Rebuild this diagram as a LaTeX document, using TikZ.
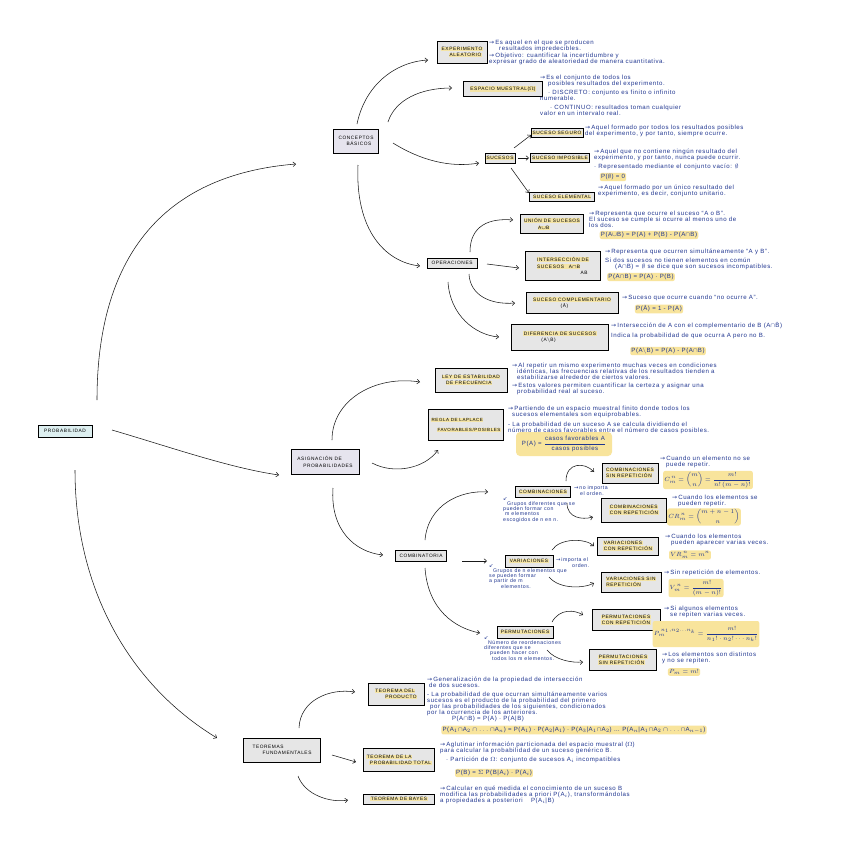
\documentclass[tikz,border=0pt]{standalone}
\usepackage{amsmath}
\usepackage{fontspec}
\setmainfont{Liberation Sans}
\newfontfamily\notefont[LetterSpace=9]{Liberation Sans}
\newfontfamily\boxfontf[LetterSpace=12]{Liberation Sans}
\newfontfamily\symf{DejaVu Sans}
\usetikzlibrary{arrows.meta,calc}
\definecolor{boxgray}{HTML}{E6E6E6}
\definecolor{probfill}{HTML}{DDEFF0}
\definecolor{concfill}{HTML}{E6E4EE}
\definecolor{hly}{HTML}{F4E4A6}
\definecolor{hlf}{HTML}{F8E49C}
\definecolor{notecol}{HTML}{1F3590}
\newcommand\myra{{\symf →}\,}
\newcommand\mysw{{\symf ↙}}
\newcommand\myhl[1]{{\setlength\fboxsep{0.5pt}\colorbox{hly}{#1}}}
\tikzset{
  box/.style={draw=black, line width=0.7pt, fill=boxgray, inner sep=1pt, align=left,
    font=\boxfontf\fontsize{4.8}{6.5}\selectfont, text=black},
  note/.style={anchor=north west, inner sep=0pt, align=left, text=notecol,
    font=\notefont\fontsize{6.1}{6}\selectfont},
  smallnote/.style={note, font=\notefont\fontsize{5.2}{5.2}\selectfont},
  form/.style={fill=hlf, rounded corners=2pt, inner sep=1.2pt, text=notecol,
    font=\notefont\fontsize{6.1}{6.5}\selectfont},
  arr/.style={-{Straight Barb[length=2.6pt,width=4.6pt]}, line width=0.55pt, black!90},
}
\begin{document}
\begin{tikzpicture}[x=1pt,y=-1pt]
\useasboundingbox[fill=white] (0,0) rectangle (848,847);

% ---------- boxes ----------
\node[box, fill=probfill, minimum width=54pt, minimum height=12pt] (prob) at (65,431) {PROBABILIDAD};
\node[box, fill=concfill, minimum width=45pt, minimum height=24pt] (concep) at (356,141) {CONCEPTOS\\\hspace*{8pt}BÁSICOS};
\node[box, fill=concfill, minimum width=68pt, minimum height=25pt] (asig) at (325,462) {ASIGNACIÓN DE\\\hspace*{6pt}PROBABILIDADES};
\node[box, minimum width=77pt, minimum height=24pt] (teor) at (282,750) {TEOREMAS\\\hspace*{10pt}FUNDAMENTALES};

\node[box, minimum width=50pt, minimum height=22pt] (exper) at (462,52) {\myhl{EXPERIMENTO}\\\hspace*{8pt}\myhl{ALEATORIO}};
\node[box, minimum width=79pt, minimum height=15pt] (espacio) at (503,89) {\myhl{ESPACIO MUESTRAL($\Omega$)}};
\node[box, minimum width=27pt, minimum height=10pt] (sucesos) at (500,158) {\myhl{SUCESOS}};
\node[box, minimum width=49pt, minimum height=9pt] (seguro) at (557,133) {\myhl{SUCESO SEGURO}};
\node[box, minimum width=57pt, minimum height=9pt] (imposible) at (560,158) {\myhl{SUCESO IMPOSIBLE}};
\node[box, minimum width=65pt, minimum height=9pt] (elemental) at (562,197) {\myhl{SUCESO ELEMENTAL}};
\node[box, minimum width=50pt, minimum height=10pt] (operac) at (452,263) {OPERACIONES};
\node[box, minimum width=63pt, minimum height=19pt] (union) at (552,224) {\myhl{UNIÓN DE SUCESOS}\\\hspace*{14pt}\myhl{A$\cup$B}};
\node[box, minimum width=75pt, minimum height=29pt] (inters) at (563,266) {\myhl{INTERSECCIÓN DE}\\\myhl{SUCESOS\quad A$\cap$B}\\\hspace*{44pt}AB};
\node[box, minimum width=92pt, minimum height=21pt] (complem) at (572,303) {\myhl{SUCESO COMPLEMENTARIO}\\\hspace*{28pt}(Ā)};
\node[box, minimum width=97pt, minimum height=26pt] (difer) at (560,337) {\myhl{DIFERENCIA DE SUCESOS}\\\hspace*{18pt}(A$\setminus$B)};
\node[box, minimum width=72pt, minimum height=24pt] (ley) at (471,380) {\myhl{LEY DE ESTABILIDAD}\\\hspace*{4pt}\myhl{DE FRECUENCIA}};
\node[box, minimum width=75pt, minimum height=31pt, font=\boxfontf\fontsize{4.5}{6.5}\selectfont] (regla) at (466,425) {\myhl{REGLA DE LAPLACE}\\[3pt]\hspace*{6pt}\myhl{FAVORABLES/POSIBLES}};
\node[box, minimum width=51pt, minimum height=11pt] (combinatoria) at (421,556) {COMBINATORIA};
\node[box, minimum width=55pt, minimum height=11pt] (combinaciones) at (543,492) {\myhl{COMBINACIONES}};
\node[box, minimum width=56pt, minimum height=20pt] (combsin) at (630,473) {\myhl{COMBINACIONES}\\\myhl{SIN REPETICIÓN}};
\node[box, minimum width=65pt, minimum height=24pt] (combcon) at (634,510) {\myhl{COMBINACIONES}\\\myhl{CON REPETICIÓN}};
\node[box, minimum width=48pt, minimum height=12pt] (variaciones) at (529,561) {\myhl{VARIACIONES}};
\node[box, minimum width=61pt, minimum height=18pt] (varcon) at (628,546) {\myhl{VARIACIONES}\\\myhl{CON REPETICIÓN}};
\node[box, minimum width=60pt, minimum height=20pt] (varsin) at (631,582) {\myhl{VARIACIONES SIN}\\\myhl{REPETICIÓN}};
\node[box, minimum width=56pt, minimum height=12pt] (permutaciones) at (525,632) {\myhl{PERMUTACIONES}};
\node[box, minimum width=68pt, minimum height=21pt] (permcon) at (626,620) {\myhl{PERMUTACIONES}\\\myhl{CON REPETICIÓN}};
\node[box, minimum width=67pt, minimum height=21pt] (permsin) at (623,660) {\myhl{PERMUTACIONES}\\\myhl{SIN REPETICIÓN}};
\node[box, minimum width=56pt, minimum height=22pt] (producto) at (396,694) {\myhl{TEOREMA DEL}\\\hspace*{10pt}\myhl{PRODUCTO}};
\node[box, minimum width=71pt, minimum height=23pt] (total) at (399,760) {\myhl{TEOREMA DE LA}\\\hspace*{3pt}\myhl{PROBABILIDAD TOTAL}};
\node[box, minimum width=71pt, minimum height=10pt] (bayes) at (399,799) {\myhl{TEOREMA DE BAYES}};

% ---------- notes ----------
\node[note] (n1) at (489,40) {\myra Es aquel en el que se producen\\\hspace*{10pt}resultados impredecibles.\\[1pt]\myra Objetivo: cuantificar la incertidumbre y\\expresar grado de aleatoriedad de manera cuantitativa.};
\node[note] (n2) at (540,75) {\myra Es el conjunto de todos los\\\hspace*{8pt}posibles resultados del experimento.\\[3pt]\hspace*{8pt}· DISCRETO: conjunto es finito o infinito\\numerable.\\[3pt]\hspace*{10pt}· CONTINUO: resultados toman cualquier\\valor en un intervalo real.};
\node[note] (n3) at (585,125) {\myra Aquel formado por todos los resultados posibles\\del experimento, y por tanto, siempre ocurre.};
\node[note] (n4) at (594,149) {\myra Aquel que no contiene ningún resultado del\\experimento, y por tanto, nunca puede ocurrir.\\[3pt]· Representado mediante el conjunto vacío: $\emptyset$};
\node[form] (f4) at (613,177) {P($\emptyset$) = 0};
\node[note] (n5) at (598,185) {\myra Aquel formado por un único resultado del\\experimento, es decir, conjunto unitario.};
\node[note] (n6) at (589,211) {\myra Representa que ocurre el suceso “A o B”.\\El suceso se cumple si ocurre al menos uno de\\los dos.};
\node[form] (f6) at (649,235) {P(A$\cup$B) = P(A) + P(B) - P(A$\cap$B)};
\node[note] (n7) at (605,249) {\myra Representa que ocurren simultáneamente “A y B”.\\[3pt]Si dos sucesos no tienen elementos en común\\\hspace*{10pt}(A$\cap$B) = $\emptyset$ se dice que son sucesos incompatibles.};
\node[form] (f7) at (641,277) {P(A$\cap$B) = P(A) · P(B)};
\node[note] (n8) at (622,295) {\myra Suceso que ocurre cuando “no ocurre A”.};
\node[form] (f8) at (659,309) {P(Ā) = 1 - P(A)};
\node[note] (n9) at (611,322) {\myra Intersección de A con el complementario de B (A$\cap$\={B})\\[4pt]Indica la probabilidad de que ocurra A pero no B.};
\node[form] (f9) at (668,351) {P(A$\setminus$B) = P(A) - P(A$\cap$B)};
\node[note] (n10) at (512,363) {\myra Al repetir un mismo experimento muchas veces en condiciones\\\hspace*{5pt}idénticas, las frecuencias relativas de los resultados tienden a\\\hspace*{5pt}estabilizarse alrededor de ciertos valores.\\[2pt]\myra Estos valores permiten cuantificar la certeza y asignar una\\\hspace*{5pt}probabilidad real al suceso.};
\node[note] (n11) at (508,406) {\myra Partiendo de un espacio muestral finito donde todos los\\\hspace*{4pt}sucesos elementales son equiprobables.\\[4pt]- La probabilidad de un suceso A se calcula dividiendo el\\número de casos favorables entre el número de casos posibles.};
\node[form, minimum width=96pt, minimum height=24pt, rounded corners=4pt] (f11) at (564,444) {P(A) = $\dfrac{\text{casos favorables A}}{\text{casos posibles}}$};
\node[note] (n12) at (660,456) {\myra Cuando un elemento no se\\\hspace*{6pt}puede repetir.};
\node[form] (f12) at (708,480) {$C^{\,n}_{m} = \dbinom{m}{n} = \dfrac{m!}{n!\,(m-n)!}$};
\node[smallnote] (n13) at (574,486) {\myra no importa\\\hspace*{6pt}el orden.};
\node[smallnote] (n14) at (503,497) {\mysw\\\hspace*{4pt}Grupos diferentes que se\\pueden formar con\\\hspace*{2pt}m elementos\\escogidos de n en n.};
\node[note] (n15) at (672,495) {\myra Cuando los elementos se\\\hspace*{6pt}pueden repetir.};
\node[form] (f15) at (704,517) {$CR^{\,n}_{m} = \dbinom{m+n-1}{n}$};
\node[smallnote] (n16) at (556,558) {\myra importa el\\\hspace*{16pt}orden.};
\node[smallnote] (n17) at (489,564) {\mysw\\\hspace*{4pt}Grupos de n elementos que\\se pueden formar\\a partir de m\\\hspace*{12pt}elementos.};
\node[note] (n18) at (665,534) {\myra Cuando los elementos\\\hspace*{6pt}pueden aparecer varias veces.};
\node[form] (f18) at (690,555) {$VR^{\,n}_{m} = m^{n}$};
\node[note] (n19) at (664,570) {\myra Sin repetición de elementos.};
\node[form] (f19) at (696,588) {$V^{\,n}_{m} = \dfrac{m!}{(m-n)!}$};
\node[note] (n20) at (664,606) {\myra Si algunos elementos\\\hspace*{6pt}se repiten varias veces.};
\node[form, minimum height=26pt] (f20) at (706,634) {$P_m^{\,n_1,n_2\ldots n_k} = \dfrac{m!}{n_1!\cdot n_2!\cdots n_k!}$};
\node[smallnote] (n21) at (484,636) {\mysw\\\hspace*{4pt}Número de reordenaciones\\diferentes que se\\\hspace*{6pt}pueden hacer con\\\hspace*{8pt}todos los m elementos.};
\node[note] (n22) at (662,652) {\myra Los elementos son distintos\\y no se repiten.};
\node[form] (f22) at (684,672) {$P_m = m!$};
\node[note] (n23) at (427,677) {\myra Generalización de la propiedad de intersección\\\hspace*{2pt}de dos sucesos.\\[3pt]- La probabilidad de que ocurran simultáneamente varios\\sucesos es el producto de la probabilidad del primero\\\hspace*{3pt}por las probabilidades de los siguientes, condicionados\\por la ocurrencia de los anteriores.};
\node[note, anchor=center] (f23a) at (488,719) {P(A$\cap$B) = P(A) · P(A|B)};
\node[form] (f23b) at (574,730) {P(A$_1\cap$A$_2\cap\ldots\cap$A$_n$) = P(A$_1$) · P(A$_2$|A$_1$) · P(A$_3$|A$_1\cap$A$_2$) \ldots\ P(A$_n$|A$_1\cap$A$_2\cap\ldots\cap$A$_{n-1}$)};
\node[note] (n24) at (440,742) {\myra Aglutinar información particionada del espacio muestral ($\Omega$)\\para calcular la probabilidad de un suceso genérico B.\\[3pt]\hspace*{6pt}· Partición de $\Omega$: conjunto de sucesos A$_i$ incompatibles};
\node[form] (f24) at (494,773) {P(B) = $\Sigma$ P(B|A$_i$) · P(A$_i$)};
\node[note] (n25) at (440,786) {\myra Calcular en qué medida el conocimiento de un suceso B\\modifica las probabilidades a priori P(A$_i$), transformándolas\\a propiedades a posteriori \hspace*{6pt}P(A$_i$|B)};

% ---------- connectors ----------
\draw[arr] ($(prob.center)+(32,-31)$) .. controls (97,260) and (160,175) .. ($(concep.center)+(-60,23)$);
\draw[arr] ($(prob.center)+(47,-1)$) .. controls (170,447) and (230,468) .. ($(asig.center)+(-46,13)$);
\draw[arr] ($(prob.center)+(10,39)$) .. controls (75,590) and (130,685) .. ($(teor.center)+(-65,-12)$);

\draw[arr] ($(concep.center)+(1,-17)$) .. controls (365,85) and (395,62) .. ($(exper.center)+(-34,8)$);
\draw[arr] ($(concep.center)+(32,-19)$) .. controls (395,100) and (420,88) .. ($(espacio.center)+(-51,-1)$);
\draw[arr] ($(concep.center)+(37,2)$) .. controls (420,160) and (450,168) .. ($(sucesos.center)+(-21,5)$);
\draw[arr] ($(concep.center)+(2,24)$) .. controls (355,230) and (385,262) .. ($(operac.center)+(-32,3)$);

\draw[arr] ($(sucesos.center)+(14,-10)$) -- ($(seguro.center)+(-26,2)$);
\draw[arr] ($(sucesos.center)+(18,0)$) -- ($(imposible.center)+(-31,0)$);
\draw[arr] ($(sucesos.center)+(11,10)$) -- ($(elemental.center)+(-33,-4)$);

\draw[arr] ($(operac.center)+(18,-11)$) .. controls (470,225) and (490,218) .. ($(union.center)+(-39,-4)$);
\draw[arr] ($(operac.center)+(35,1)$) -- ($(inters.center)+(-44,2)$);
\draw[arr] ($(operac.center)+(17,11)$) .. controls (470,295) and (490,305) .. ($(complem.center)+(-57,0)$);
\draw[arr] ($(operac.center)+(-4,19)$) .. controls (450,315) and (475,335) .. ($(difer.center)+(-61,0)$);

\draw[arr] ($(asig.center)+(7,-22)$) .. controls (332,400) and (375,375) .. ($(ley.center)+(-51,2)$);
\draw[arr] ($(asig.center)+(47,1)$) .. controls (395,475) and (425,468) .. ($(regla.center)+(-28,25)$);
\draw[arr] ($(asig.center)+(8,26)$) .. controls (330,530) and (355,552) .. ($(combinatoria.center)+(-38,-1)$);

\draw[arr] ($(combinatoria.center)+(4,-16)$) .. controls (428,505) and (460,490) .. ($(combinaciones.center)+(-55,0)$);
\draw[arr] ($(combinatoria.center)+(41,5)$) -- ($(variaciones.center)+(-42,0)$);
\draw[arr] ($(combinatoria.center)+(4,12)$) .. controls (428,610) and (455,628) .. ($(permutaciones.center)+(-45,1)$);

\draw[arr] ($(combinaciones.center)+(23,-11)$) .. controls (566,462) and (585,462) .. ($(combsin.center)+(-36,-1)$);
\draw[arr] ($(combinaciones.center)+(24,11)$) .. controls (567,518) and (582,520) .. ($(combcon.center)+(-41,7)$);
\draw[arr] ($(variaciones.center)+(23,-11)$) .. controls (560,538) and (585,538) .. ($(varcon.center)+(-34,0)$);
\draw[arr] ($(variaciones.center)+(20,16)$) .. controls (560,590) and (585,588) .. ($(varsin.center)+(-37,1)$);
\draw[arr] ($(permutaciones.center)+(27,-10)$) .. controls (560,608) and (575,610) .. ($(permcon.center)+(-43,-5)$);
\draw[arr] ($(permutaciones.center)+(22,18)$) .. controls (555,660) and (572,663) .. ($(permsin.center)+(-40,2)$);

\draw[arr] ($(teor.center)+(17,-22)$) .. controls (300,700) and (330,688) .. ($(producto.center)+(-41,-2)$);
\draw[arr] ($(teor.center)+(50,5)$) -- ($(total.center)+(-43,2)$);
\draw[arr] ($(teor.center)+(16,26)$) .. controls (305,795) and (330,803) .. ($(bayes.center)+(-51,1)$);
\end{tikzpicture}
\end{document}
